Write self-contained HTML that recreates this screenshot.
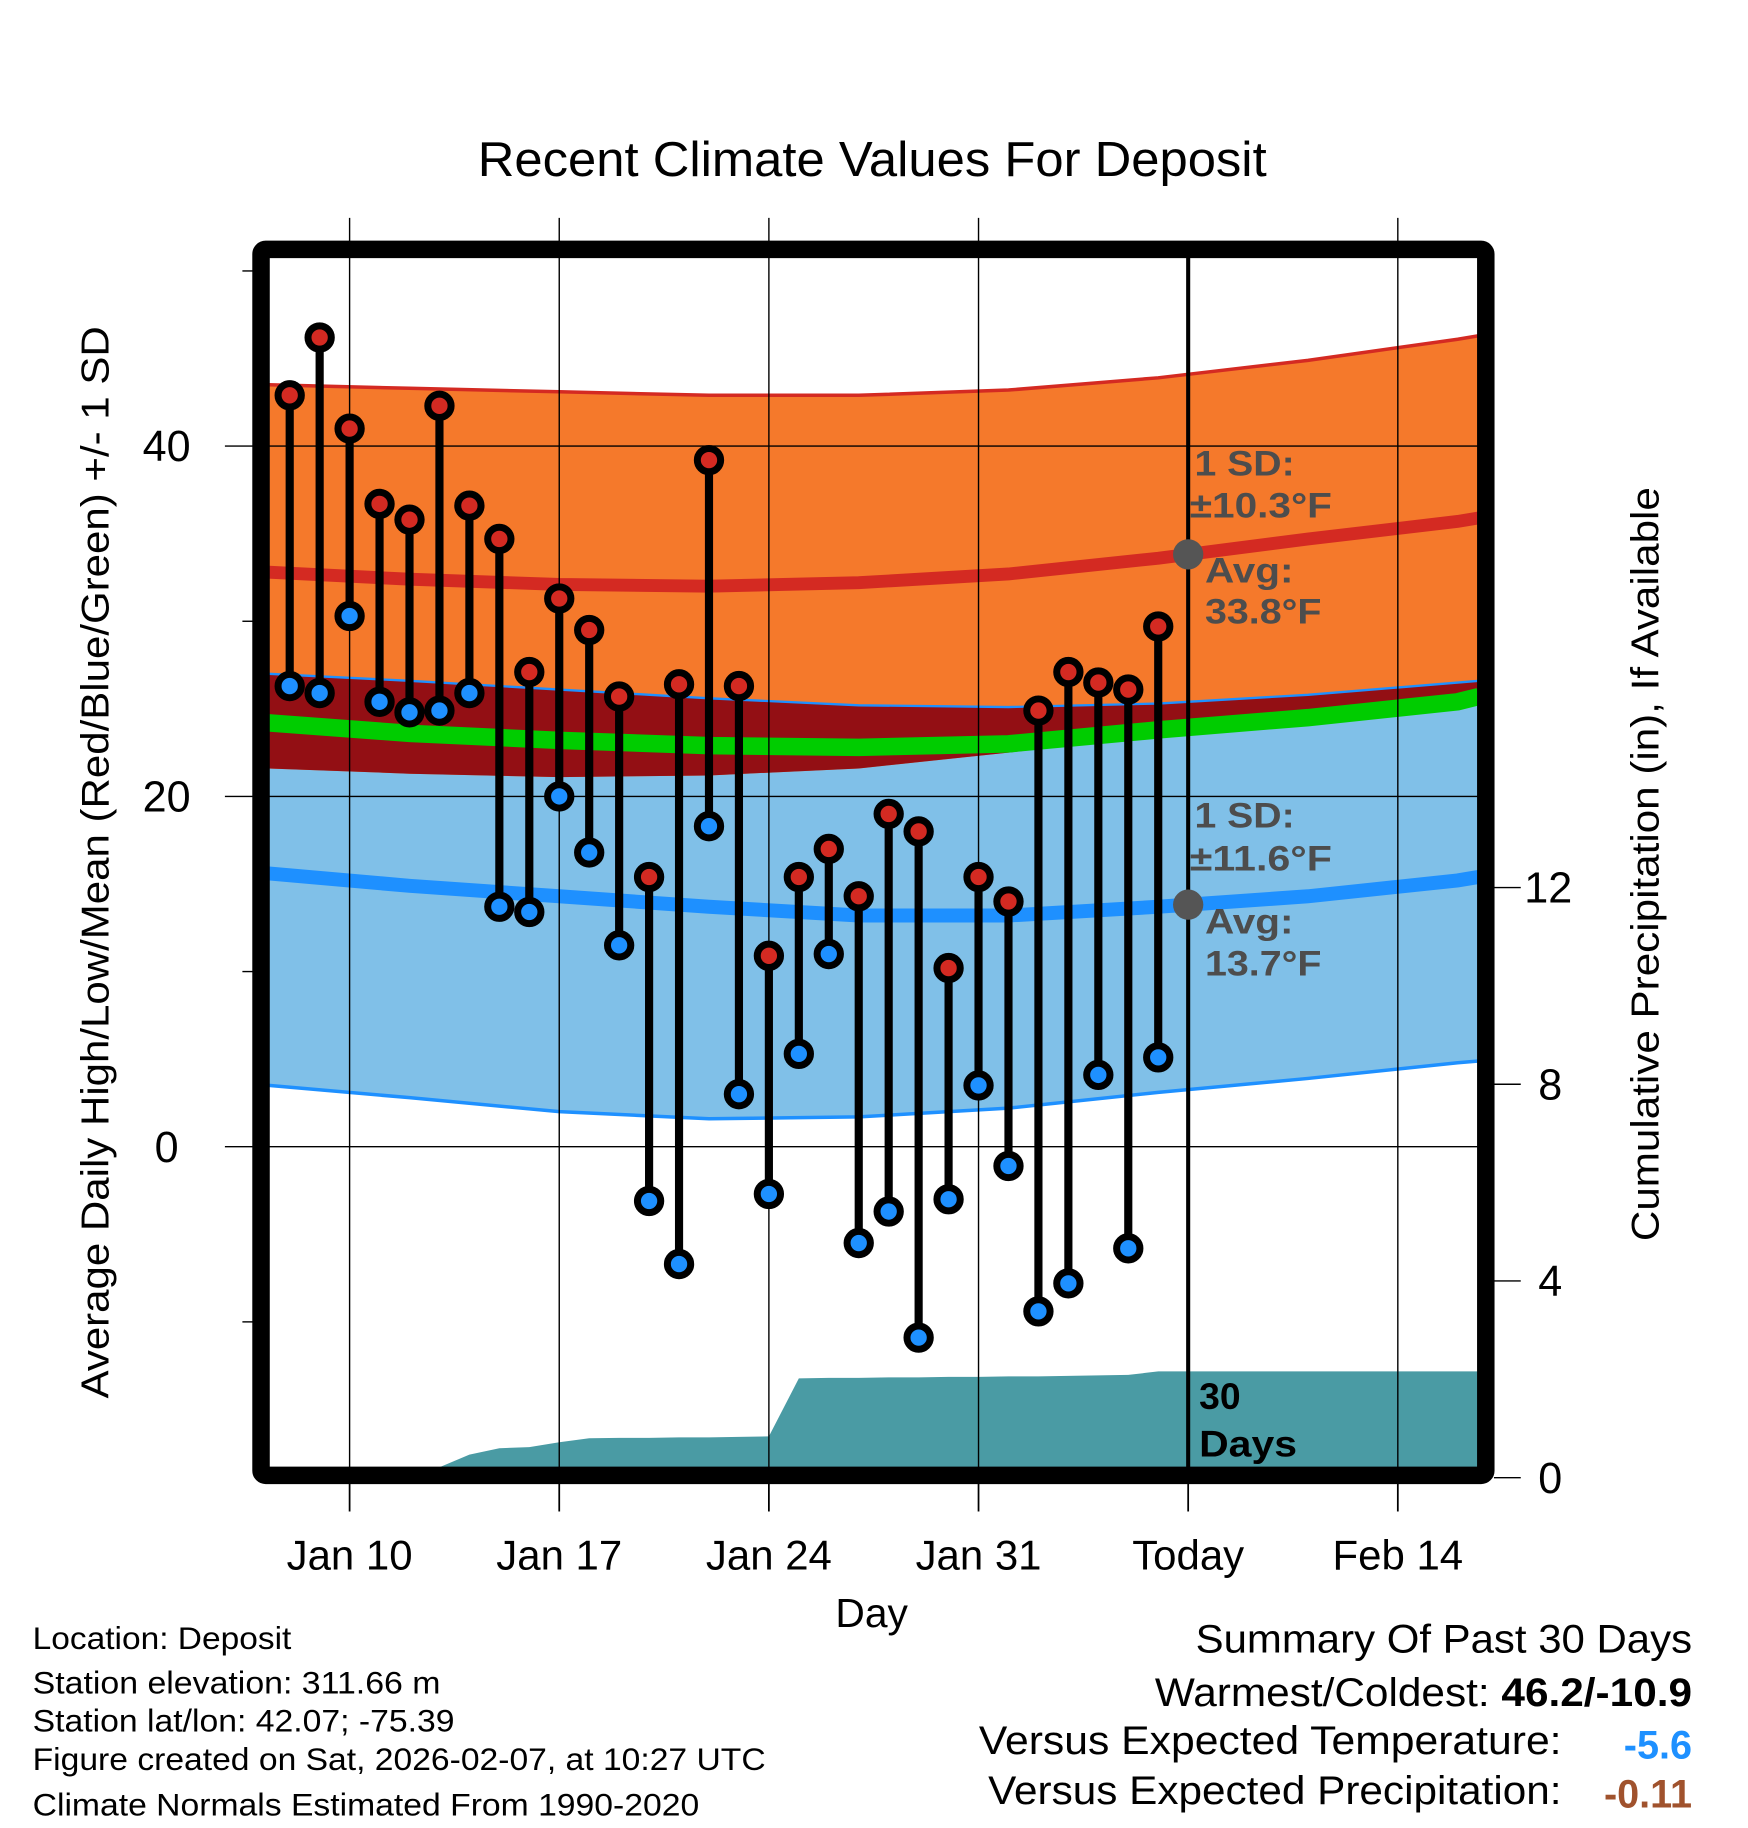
<!DOCTYPE html>
<html><head><meta charset="utf-8">
<style>
html,body{margin:0;padding:0;background:#fff;}
svg{display:block;font-family:"Liberation Sans",sans-serif;}
</style></head>
<body>
<svg id="chart" width="1748" height="1828" viewBox="0 0 1500 1568.6" preserveAspectRatio="none" xmlns="http://www.w3.org/2000/svg">
<g id="bands"></g>
<g id="grid"></g>
<g id="marks"></g>
<g id="labels"></g>
</svg>
<script>
// ---- data ----
const obsDays = [8,9,10,11,12,13,14,15,16,17,18,19,20,21,22,23,24,25,26,27,28,29,30,31,32,33,34,35,36,37];
const highs = [42.9,46.2,41.0,36.7,35.8,42.3,36.6,34.7,27.1,31.3,29.5,25.7,15.4,26.4,39.2,26.3,10.9,15.4,17.0,14.3,19.0,18.0,10.2,15.4,14.0,24.9,27.1,26.5,26.1,29.7];
const lows = [26.3,25.9,30.3,25.4,24.8,24.9,25.9,13.7,13.4,20.0,16.8,11.5,-3.1,-6.7,18.3,3.0,-2.7,5.3,11.0,-5.5,-3.7,-10.9,-3.0,3.5,-1.1,-9.4,-7.8,4.1,-5.8,5.1];
const precip = [0,0,0,0,0,0,0.47,0.6,0.62,0.72,0.8,0.81,0.81,0.82,0.82,0.83,0.84,2.02,2.03,2.03,2.04,2.04,2.05,2.05,2.06,2.06,2.07,2.08,2.09,2.16];
const normDays = [7.3,12,17,22,27,32,37,42,47,47.7];
const highUpper = [43.5,43.3,43.1,42.9,42.9,43.2,43.9,44.9,46.1,46.3];
const highAvg = [32.8,32.4,32.1,32.0,32.2,32.7,33.6,34.7,35.7,35.9];
const highLower = [21.6,21.3,21.1,21.2,21.6,22.5,23.5,24.5,25.4,25.6];
const lowUpper = [27.0,26.6,26.1,25.6,25.2,25.1,25.3,25.8,26.5,26.6];
const lowAvg = [15.6,14.9,14.3,13.7,13.2,13.2,13.7,14.3,15.2,15.4];
const lowLower = [3.5,2.8,2.0,1.6,1.7,2.2,3.1,3.9,4.8,4.9];
const meanAvg = [24.2,23.6,23.2,22.9,22.8,23.0,23.8,24.5,25.4,25.7];
const xTickDays = [10,17,24,31,38,45];
const xTickLabels = ["Jan 10","Jan 17","Jan 24","Jan 31","Today","Feb 14"];
const yTicks = [40,20,0];
const yMinorTicks = [50,30,10,-10];
const pTicks = [0,4,8,12];
const todayDay = 38;

// ---- axes ----
const X = d => 300 + (d - 10) * 25.7;
const Y = t => 984 - 15.03 * t;
const P = p => 1268 - 42.2 * p;
const L = 231, R = 1268, T = 221, B = 1259;
const NS = "http://www.w3.org/2000/svg";
function mk(parent, tag, attrs) {
  const e = document.createElementNS(NS, tag);
  for (const k in attrs) e.setAttribute(k, attrs[k]);
  document.getElementById(parent).appendChild(e);
  return e;
}
function line(xs, ys) { return xs.map((d,i)=>`${X(d).toFixed(1)},${Y(ys[i]).toFixed(1)}`).join(" "); }
function band(up, lo) {
  const a = normDays.map((d,i)=>`${X(d).toFixed(1)},${Y(up[i]).toFixed(1)}`);
  const b = normDays.map((d,i)=>`${X(d).toFixed(1)},${Y(lo[i]).toFixed(1)}`).reverse();
  return a.concat(b).join(" ");
}

let e;
e = mk("bands","polygon",{points:band(lowUpper,lowLower),fill:"#80c0e8"});
 
e = mk("bands","polygon",{points:band(highUpper,highLower),fill:"#f5792b"});
 
const ovUp = lowUpper.map((v,i)=>Math.min(v, highUpper[i]));
const ovLo = highLower.map((v,i)=>Math.max(v, lowLower[i]));
e = mk("bands","polygon",{points:band(ovUp,ovLo),fill:"#930f14"});
 
e = mk("bands","polyline",{points:line(normDays,highUpper),fill:"none",stroke:"#d42a22","stroke-width":3});
 
e = mk("bands","polyline",{points:line(normDays,lowUpper),fill:"none",stroke:"#1e90ff","stroke-width":2});
 
e = mk("bands","polyline",{points:line(normDays,lowLower),fill:"none",stroke:"#1e90ff","stroke-width":3});
 
e = mk("bands","polyline",{points:line(normDays,highAvg),fill:"none",stroke:"#d42a22","stroke-width":11});
 
e = mk("bands","polyline",{points:line(normDays,lowAvg),fill:"none",stroke:"#1e90ff","stroke-width":12});
 
e = mk("bands","polyline",{points:line(normDays,meanAvg),fill:"none",stroke:"#00cc00","stroke-width":15});
 

let pp = [`${X(obsDays[0])},${B}`];
obsDays.forEach((d,i)=>pp.push(`${X(d).toFixed(1)},${Math.min(P(precip[i]),B).toFixed(1)}`));
pp.push(`${R},${P(precip[precip.length-1]).toFixed(1)}`); pp.push(`${R},${B}`);
e = mk("bands","polygon",{points:pp.join(" "),fill:"#4a9ba4"});
 

xTickDays.forEach((d,i)=>{
  if (d !== todayDay) {
    e = mk("grid","line",{x1:X(d),x2:X(d),y1:187,y2:B,stroke:"#000","stroke-width":1.2});
     
  }
  e = mk("grid","line",{x1:X(d),x2:X(d),y1:1270,y2:1297,stroke:"#000","stroke-width":1.5});
   
  e = mk("labels","text",{x:X(d),y:1347,"font-size":36,"text-anchor":"middle"});
  e.textContent = xTickLabels[i];
   
});
yTicks.forEach(t=>{
  e = mk("grid","line",{x1:193,x2:R,y1:Y(t),y2:Y(t),stroke:"#000","stroke-width":1.2});
   
  e = mk("labels","text",{x:143,y:Y(t)+13,"font-size":37,"text-anchor":"middle"});
  e.textContent = t;
   
});
yMinorTicks.forEach(t=>{
  e = mk("grid","line",{x1:208,x2:220,y1:Y(t),y2:Y(t),stroke:"#000","stroke-width":1.2});
   
});
pTicks.forEach(p=>{
  e = mk("grid","line",{x1:1282,x2:1305,y1:P(p),y2:P(p),stroke:"#000","stroke-width":1.2});
   
  e = mk("labels","text",{x:p>=10?1308:1320,y:P(p)+13,"font-size":37});
  e.textContent = p;
   
});
e = mk("grid","line",{x1:X(todayDay),x2:X(todayDay),y1:T,y2:B,stroke:"#000","stroke-width":3.5});
 

obsDays.forEach((d,i)=>{
  e = mk("marks","line",{x1:X(d),x2:X(d),y1:Y(highs[i]),y2:Y(lows[i]),stroke:"#000","stroke-width":7});
   
  e = mk("marks","circle",{cx:X(d),cy:Y(highs[i]),r:10,fill:"#d42a22",stroke:"#000","stroke-width":6});
   
  e = mk("marks","circle",{cx:X(d),cy:Y(lows[i]),r:10,fill:"#1e90ff",stroke:"#000","stroke-width":6});
   
});
[highAvg, lowAvg].forEach(arr=>{
  const v = arr[6] + (arr[7]-arr[6])*(todayDay-37)/5;
  e = mk("marks","circle",{cx:X(todayDay),cy:Y(v),r:13,fill:"#555"});
   
});
e = mk("marks","rect",{x:224,y:214,width:1051,height:1052,fill:"none",stroke:"#000","stroke-width":15,rx:4});
 
</script>
<svg style="position:absolute;left:0;top:0" width="1748" height="1828" viewBox="0 0 1500 1568.6" preserveAspectRatio="none" xmlns="http://www.w3.org/2000/svg" font-family="Liberation Sans, sans-serif">
<g font-weight="bold" fill="#4d4d4d" font-size="30">
<text x="1025" y="408" textLength="86" lengthAdjust="spacingAndGlyphs">1 SD:</text>
<text x="1021" y="444" textLength="122" lengthAdjust="spacingAndGlyphs">±10.3°F</text>
<text x="1034" y="500" textLength="76" lengthAdjust="spacingAndGlyphs">Avg:</text>
<text x="1034" y="535" textLength="100" lengthAdjust="spacingAndGlyphs">33.8°F</text>
<text x="1025" y="710" textLength="86" lengthAdjust="spacingAndGlyphs">1 SD:</text>
<text x="1021" y="747" textLength="122" lengthAdjust="spacingAndGlyphs">±11.6°F</text>
<text x="1034" y="801" textLength="76" lengthAdjust="spacingAndGlyphs">Avg:</text>
<text x="1034" y="837" textLength="100" lengthAdjust="spacingAndGlyphs">13.7°F</text>
</g>
<g font-weight="bold" fill="#000" font-size="32">
<text x="1029" y="1209">30</text>
<text x="1029" y="1250" textLength="84" lengthAdjust="spacingAndGlyphs">Days</text>
</g>
<text x="410" y="151" font-size="42" textLength="677" lengthAdjust="spacingAndGlyphs">Recent Climate Values For Deposit</text>
<text x="748" y="1396" font-size="35" text-anchor="middle">Day</text>
<text transform="translate(93,1200) rotate(-90)" font-size="33" textLength="920" lengthAdjust="spacingAndGlyphs">Average Daily High/Low/Mean (Red/Blue/Green) +/- 1 SD</text>
<text transform="translate(1423,1065) rotate(-90)" font-size="33" textLength="647" lengthAdjust="spacingAndGlyphs">Cumulative Precipitation (in), If Available</text>
<g font-size="27" fill="#000">
<text x="28" y="1415" textLength="222" lengthAdjust="spacingAndGlyphs">Location: Deposit</text>
<text x="28" y="1453" textLength="350" lengthAdjust="spacingAndGlyphs">Station elevation: 311.66 m</text>
<text x="28" y="1486" textLength="362" lengthAdjust="spacingAndGlyphs">Station lat/lon: 42.07; -75.39</text>
<text x="28" y="1519" textLength="629" lengthAdjust="spacingAndGlyphs">Figure created on Sat, 2026-02-07, at 10:27 UTC</text>
<text x="28" y="1558" textLength="572" lengthAdjust="spacingAndGlyphs">Climate Normals Estimated From 1990-2020</text>
</g>
<g font-size="34" fill="#000">
<text x="1026" y="1418" textLength="426" lengthAdjust="spacingAndGlyphs">Summary Of Past 30 Days</text>
<text x="991" y="1464" textLength="461" lengthAdjust="spacingAndGlyphs">Warmest/Coldest: <tspan font-weight="bold">46.2/-10.9</tspan></text>
<text x="840" y="1505" textLength="500" lengthAdjust="spacingAndGlyphs">Versus Expected Temperature:</text>
<text x="1452" y="1509" font-weight="bold" fill="#1e90ff" text-anchor="end">-5.6</text>
<text x="848" y="1548" textLength="492" lengthAdjust="spacingAndGlyphs">Versus Expected Precipitation:</text>
<text x="1452" y="1551" font-weight="bold" fill="#a0522d" text-anchor="end">-0.11</text>
</g>
</svg>
</body></html>
